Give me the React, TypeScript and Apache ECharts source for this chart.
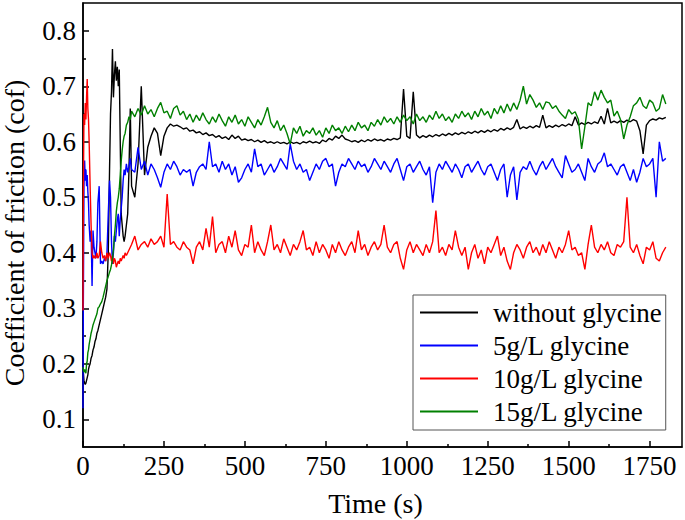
import React, { useEffect, useRef } from "react";
import * as echarts from "echarts";

// ---- time axis samples (s) ----
const earlyTime = [0, 1, 3, 5, 7, 9, 11, 13, 15, 17, 19, 22, 25, 28, 31, 34, 37, 40, 43, 46, 50, 54, 58, 62, 66, 70, 74, 78, 82, 85, 88, 91, 94, 97, 100, 103, 106, 109, 112, 115, 118, 121, 124, 127, 130, 134, 138, 142, 146];
const lateTime = [
  150, 160, 170, 180, 190, 200, 210, 220, 230, 240,
  250, 260, 270, 280, 290, 300, 310, 320, 330, 340,
  350, 360, 370, 380, 390, 400, 410, 420, 430, 440,
  450, 460, 470, 480, 490, 500, 510, 520, 530, 540,
  550, 560, 570, 580, 590, 600, 610, 620, 630, 640,
  650, 660, 670, 680, 690, 700, 710, 720, 730, 740,
  750, 760, 770, 780, 790, 800, 810, 820, 830, 840,
  850, 860, 870, 880, 890, 900, 910, 920, 930, 940,
  950, 960, 970, 980, 990, 1000, 1010, 1020, 1030, 1040,
  1050, 1060, 1070, 1080, 1090, 1100, 1110, 1120, 1130, 1140,
  1150, 1160, 1170, 1180, 1190, 1200, 1210, 1220, 1230, 1240,
  1250, 1260, 1270, 1280, 1290, 1300, 1310, 1320, 1330, 1340,
  1350, 1360, 1370, 1380, 1390, 1400, 1410, 1420, 1430, 1440,
  1450, 1460, 1470, 1480, 1490, 1500, 1510, 1520, 1530, 1540,
  1550, 1560, 1570, 1580, 1590, 1600, 1610, 1620, 1630, 1640,
  1650, 1660, 1670, 1680, 1690, 1700, 1710, 1720, 1730, 1740,
  1750, 1760, 1770, 1780, 1790, 1800,
];

// ---- without glycine ----
const blackEarly = [0.20, 0.185, 0.17, 0.165, 0.163, 0.165, 0.17, 0.175, 0.18, 0.19, 0.195, 0.20, 0.21, 0.215, 0.225, 0.23, 0.24, 0.245, 0.255, 0.26, 0.27, 0.28, 0.29, 0.30, 0.31, 0.32, 0.335, 0.40, 0.55, 0.65, 0.69, 0.767, 0.68, 0.72, 0.745, 0.71, 0.735, 0.70, 0.73, 0.60, 0.47, 0.45, 0.43, 0.42, 0.43, 0.45, 0.47, 0.55, 0.66];
const blackLate = [
  0.52, 0.50, 0.56, 0.70, 0.54, 0.59, 0.61, 0.625, 0.615, 0.575,
  0.61, 0.625, 0.632, 0.628, 0.63, 0.627, 0.623, 0.625, 0.619, 0.621,
  0.616, 0.618, 0.613, 0.616, 0.611, 0.613, 0.608, 0.611, 0.606, 0.609,
  0.604, 0.612, 0.606, 0.61, 0.603, 0.605, 0.602, 0.604, 0.60, 0.603,
  0.599, 0.602, 0.598, 0.60, 0.597, 0.60, 0.597, 0.599, 0.596, 0.60,
  0.597, 0.599, 0.596, 0.60, 0.598, 0.601, 0.598, 0.60, 0.597, 0.603,
  0.60, 0.606, 0.603, 0.61, 0.606, 0.612, 0.605, 0.603, 0.60, 0.602,
  0.599, 0.603, 0.60, 0.604, 0.601, 0.605, 0.602, 0.604, 0.601, 0.605,
  0.603, 0.606, 0.604, 0.607, 0.695, 0.61, 0.606, 0.69, 0.612, 0.607,
  0.611, 0.608, 0.612, 0.609, 0.613, 0.61, 0.614, 0.611, 0.615, 0.612,
  0.616, 0.613, 0.617, 0.614, 0.618, 0.615, 0.619, 0.616, 0.62, 0.617,
  0.621, 0.618, 0.622, 0.619, 0.624, 0.621, 0.625, 0.622, 0.626, 0.64,
  0.623, 0.627, 0.624, 0.628, 0.625, 0.629, 0.626, 0.648, 0.625, 0.629,
  0.626, 0.63, 0.627, 0.631, 0.628, 0.632, 0.629, 0.645, 0.63, 0.634,
  0.631, 0.635, 0.632, 0.636, 0.633, 0.646, 0.632, 0.66, 0.634, 0.637,
  0.634, 0.638, 0.635, 0.639, 0.636, 0.64, 0.637, 0.62, 0.578, 0.63,
  0.638, 0.641, 0.639, 0.643, 0.641, 0.644,
];

// ---- 5g/L glycine ----
const blueEarly = [0.12, 0.30, 0.52, 0.566, 0.53, 0.55, 0.52, 0.54, 0.51, 0.49, 0.45, 0.42, 0.44, 0.34, 0.44, 0.41, 0.40, 0.39, 0.42, 0.49, 0.52, 0.38, 0.385, 0.38, 0.39, 0.385, 0.40, 0.47, 0.53, 0.50, 0.42, 0.38, 0.40, 0.43, 0.42, 0.44, 0.46, 0.47, 0.43, 0.46, 0.48, 0.50, 0.53, 0.55, 0.54, 0.56, 0.545, 0.555, 0.57];
const blueLate = [
  0.55, 0.545, 0.59, 0.55, 0.565, 0.54, 0.56, 0.55, 0.535, 0.518,
  0.545, 0.56, 0.55, 0.565, 0.555, 0.54, 0.55, 0.545, 0.55, 0.52,
  0.545, 0.555, 0.56, 0.55, 0.60, 0.555, 0.56, 0.545, 0.565, 0.55,
  0.56, 0.54, 0.555, 0.527, 0.535, 0.55, 0.56, 0.545, 0.587, 0.555,
  0.56, 0.54, 0.55, 0.56, 0.545, 0.555, 0.57, 0.56, 0.55, 0.596,
  0.565, 0.55, 0.56, 0.545, 0.55, 0.53, 0.545, 0.56, 0.55, 0.565,
  0.57, 0.555, 0.56, 0.52, 0.545, 0.56, 0.555, 0.57, 0.56, 0.55,
  0.565, 0.555, 0.56, 0.545, 0.555, 0.57, 0.56, 0.55, 0.565, 0.555,
  0.545, 0.56, 0.57, 0.55, 0.53, 0.555, 0.56, 0.545, 0.555, 0.565,
  0.55, 0.54, 0.555, 0.49, 0.545, 0.56, 0.55, 0.565, 0.555, 0.545,
  0.56, 0.55, 0.535, 0.555, 0.56, 0.545, 0.555, 0.565, 0.55, 0.54,
  0.555, 0.56, 0.545, 0.53, 0.55, 0.56, 0.50, 0.54, 0.555, 0.495,
  0.545, 0.555, 0.55, 0.565, 0.55, 0.54, 0.555, 0.565, 0.55, 0.56,
  0.57, 0.555, 0.545, 0.535, 0.575, 0.56, 0.545, 0.55, 0.56, 0.545,
  0.53, 0.57, 0.555, 0.545, 0.56, 0.565, 0.58, 0.555, 0.56, 0.55,
  0.54, 0.555, 0.56, 0.545, 0.53, 0.55, 0.527, 0.545, 0.57, 0.555,
  0.56, 0.57, 0.50, 0.60, 0.565, 0.57,
];

// ---- 10g/L glycine ----
const redEarly = [0.296, 0.50, 0.65, 0.63, 0.67, 0.64, 0.68, 0.713, 0.66, 0.64, 0.60, 0.52, 0.45, 0.40, 0.39, 0.395, 0.39, 0.392, 0.40, 0.39, 0.395, 0.42, 0.40, 0.39, 0.395, 0.385, 0.40, 0.39, 0.40, 0.395, 0.385, 0.395, 0.38, 0.39, 0.385, 0.374, 0.38, 0.385, 0.38, 0.39, 0.385, 0.39, 0.395, 0.39, 0.40, 0.395, 0.40, 0.405, 0.41];
const redLate = [
  0.415, 0.43, 0.405, 0.415, 0.42, 0.41, 0.425, 0.415, 0.42, 0.43,
  0.41, 0.506, 0.415, 0.42, 0.41, 0.405, 0.42, 0.41, 0.405, 0.38,
  0.41, 0.42, 0.405, 0.444, 0.41, 0.465, 0.40, 0.415, 0.42, 0.40,
  0.43, 0.41, 0.44, 0.405, 0.395, 0.415, 0.41, 0.45, 0.40, 0.42,
  0.405, 0.395, 0.42, 0.45, 0.405, 0.415, 0.40, 0.425, 0.41, 0.395,
  0.415, 0.405, 0.42, 0.44, 0.405, 0.41, 0.395, 0.42, 0.40, 0.415,
  0.405, 0.39, 0.415, 0.40, 0.42, 0.405, 0.395, 0.41, 0.42, 0.40,
  0.44, 0.405, 0.415, 0.395, 0.41, 0.42, 0.405, 0.415, 0.45, 0.41,
  0.40, 0.415, 0.42, 0.39, 0.37, 0.405, 0.42, 0.40, 0.415, 0.405,
  0.395, 0.415, 0.40, 0.42, 0.476, 0.40, 0.41, 0.395, 0.415, 0.405,
  0.44, 0.41, 0.395, 0.41, 0.37, 0.40, 0.415, 0.39, 0.405, 0.38,
  0.41, 0.40, 0.415, 0.43, 0.395, 0.41, 0.385, 0.37, 0.40, 0.415,
  0.405, 0.39, 0.41, 0.42, 0.40, 0.41, 0.395, 0.415, 0.40, 0.42,
  0.405, 0.39, 0.41, 0.40, 0.415, 0.44, 0.405, 0.41, 0.395, 0.40,
  0.37, 0.415, 0.45, 0.41, 0.40, 0.415, 0.405, 0.42, 0.40, 0.395,
  0.415, 0.41, 0.42, 0.50, 0.41, 0.40, 0.415, 0.395, 0.38, 0.41,
  0.405, 0.42, 0.39, 0.385, 0.40, 0.41,
];

// ---- 15g/L glycine ----
const greenEarly = [0.194, 0.19, 0.185, 0.19, 0.185, 0.183, 0.20, 0.205, 0.22, 0.225, 0.235, 0.245, 0.255, 0.262, 0.27, 0.275, 0.28, 0.285, 0.29, 0.30, 0.303, 0.308, 0.312, 0.32, 0.33, 0.34, 0.35, 0.357, 0.365, 0.37, 0.378, 0.39, 0.405, 0.43, 0.45, 0.475, 0.49, 0.50, 0.515, 0.54, 0.565, 0.585, 0.60, 0.61, 0.615, 0.63, 0.635, 0.645, 0.64];
const greenLate = [
  0.655, 0.645, 0.66, 0.648, 0.665, 0.65, 0.658, 0.645, 0.66, 0.671,
  0.652, 0.655, 0.642, 0.66, 0.665, 0.648, 0.655, 0.64, 0.65, 0.635,
  0.648, 0.638, 0.652, 0.64, 0.632, 0.645, 0.635, 0.65, 0.638, 0.628,
  0.645, 0.635, 0.648, 0.632, 0.64, 0.628, 0.645, 0.635, 0.625, 0.64,
  0.63, 0.645, 0.662, 0.635, 0.625, 0.638, 0.62, 0.63, 0.615, 0.596,
  0.625, 0.615, 0.628, 0.61, 0.62, 0.615, 0.625, 0.612, 0.62, 0.608,
  0.625, 0.615, 0.63, 0.62, 0.625, 0.615, 0.628, 0.618, 0.63, 0.62,
  0.635, 0.625, 0.63, 0.62, 0.635, 0.628, 0.64, 0.63, 0.645, 0.635,
  0.642, 0.632, 0.645, 0.635, 0.648, 0.638, 0.645, 0.632, 0.65, 0.638,
  0.645, 0.635, 0.648, 0.64, 0.655, 0.642, 0.65, 0.638, 0.645, 0.635,
  0.65, 0.642, 0.655, 0.645, 0.652, 0.64, 0.655, 0.645, 0.66, 0.648,
  0.655, 0.642, 0.66, 0.65, 0.665, 0.652, 0.668, 0.655, 0.67, 0.658,
  0.675, 0.70, 0.668, 0.685, 0.675, 0.662, 0.67, 0.658, 0.672, 0.67,
  0.66, 0.665, 0.655, 0.648, 0.642, 0.658, 0.65, 0.654, 0.64, 0.587,
  0.627, 0.67, 0.665, 0.69, 0.675, 0.693, 0.68, 0.67, 0.675, 0.646,
  0.655, 0.64, 0.605, 0.63, 0.645, 0.665, 0.67, 0.68, 0.665, 0.66,
  0.675, 0.67, 0.655, 0.66, 0.685, 0.668,
];

const seriesNames = ["without glycine", "5g/L glycine", "10g/L glycine", "15g/L glycine"];
const seriesColors = ["#000000", "#0000ff", "#ff0000", "#008000"];
const xMajorTicks = [0, 250, 500, 750, 1000, 1250, 1500, 1750];
const xMinorTicks = [125, 375, 625, 875, 1125, 1375, 1625];
const yMajorTicks = [0.1, 0.2, 0.3, 0.4, 0.5, 0.6, 0.7, 0.8];
const yMinorTicks = [0.15, 0.25, 0.35, 0.45, 0.55, 0.65, 0.75];

const FONT = "Liberation Serif";

function pairs(early: number[], late: number[]) {
  const time = earlyTime.concat(lateTime);
  const vals = early.concat(late);
  return time.map((t, i) => [t, vals[i]]);
}

export default function App() {
  const ref = useRef<HTMLDivElement>(null);
  useEffect(() => {
    document.body.style.margin = "0";
    if (!ref.current) return;
    const chart = echarts.init(ref.current, undefined, { renderer: "svg" });
    const seriesData = [
      pairs(blackEarly, blackLate),
      pairs(blueEarly, blueLate),
      pairs(redEarly, redLate),
      pairs(greenEarly, greenLate),
    ];
    const axisLine = { show: true, lineStyle: { color: "#000", width: 1.5 } };
    chart.setOption({
      animation: false,
      backgroundColor: "#fff",
      textStyle: { fontFamily: FONT },
      grid: {
        left: 83, right: 3, top: 3, bottom: 73,
        containLabel: false, outerBoundsMode: "none",
        show: true, borderColor: "#000", borderWidth: 1.5, backgroundColor: "transparent",
      },
      legend: {
        orient: "vertical",
        left: 413,
        top: 295,
        padding: [4, 4, 5, 7],
        itemWidth: 58,
        itemHeight: 2,
        itemGap: 6,
        icon: "rect",
        backgroundColor: "#fff",
        borderColor: "#555",
        borderWidth: 1,
        data: seriesNames,
        textStyle: { fontFamily: FONT, fontSize: 27, color: "#000", padding: [0, 0, 0, 10] },
      },
      xAxis: [
        {
          type: "value", min: 0, max: 1850, interval: 250,
          name: "Time (s)", nameLocation: "middle", nameGap: 42,
          nameTextStyle: { fontFamily: FONT, fontSize: 28, color: "#000", padding: [0, 14, 0, 0] },
          axisLine,
          axisTick: { show: true, inside: true, length: 6, lineStyle: { color: "#000", width: 1.5 }, customValues: xMajorTicks },
          axisLabel: { fontFamily: FONT, fontSize: 27, color: "#000", margin: 5, customValues: xMajorTicks, formatter: (v: number) => String(v) },
          splitLine: { show: false },
        },
        {
          type: "value", min: 0, max: 1850, interval: 250, position: "bottom",
          axisLine: { show: false },
          axisTick: { show: true, inside: true, length: 3, lineStyle: { color: "#000", width: 1.5 }, customValues: xMinorTicks },
          axisLabel: { show: false },
          splitLine: { show: false },
        },
      ],
      yAxis: [
        {
          type: "value", min: 0.05, max: 0.85, interval: 0.05,
          name: "Coefficient of friction (cof)", nameLocation: "middle", nameGap: 55,
          nameTextStyle: { fontFamily: FONT, fontSize: 28, color: "#000", padding: [0, 16, 0, 0] },
          axisLine,
          axisTick: { show: true, inside: true, length: 6, lineStyle: { color: "#000", width: 1.5 }, customValues: yMajorTicks },
          axisLabel: { fontFamily: FONT, fontSize: 27, color: "#000", margin: 7, customValues: yMajorTicks, formatter: (v: number) => v.toFixed(1) },
          splitLine: { show: false },
        },
        {
          type: "value", min: 0.05, max: 0.85, interval: 0.05, position: "left",
          axisLine: { show: false },
          axisTick: { show: true, inside: true, length: 3, lineStyle: { color: "#000", width: 1.5 }, customValues: yMinorTicks },
          axisLabel: { show: false },
          splitLine: { show: false },
        },
      ],
      series: seriesNames.map((name, i) => ({
        name,
        type: "line",
        data: seriesData[i],
        symbol: "none",
        showSymbol: false,
        xAxisIndex: 0,
        yAxisIndex: 0,
        lineStyle: { color: seriesColors[i], width: 1.4 },
        itemStyle: { color: seriesColors[i] },
        z: 2 + i,
      })),
    });
    return () => chart.dispose();
  }, []);
  return <div ref={ref} style={{ width: 685, height: 520, position: "absolute", left: 0, top: 0 }} />;
}
